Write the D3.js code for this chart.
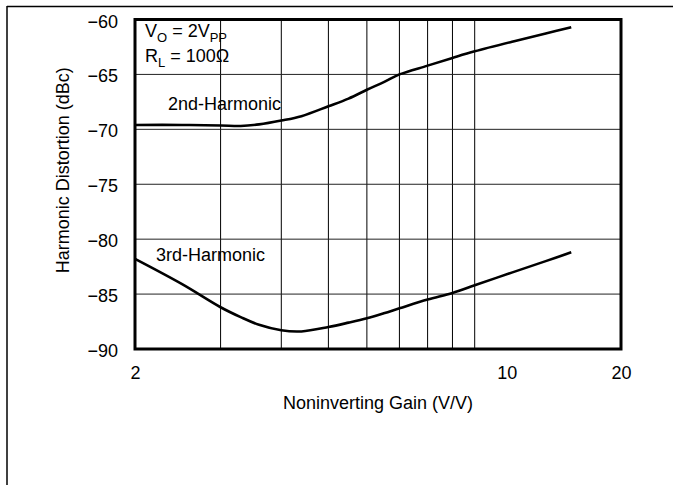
<!DOCTYPE html>
<html>
<head>
<meta charset="utf-8">
<script src="https://cdn.jsdelivr.net/npm/d3@7"></script>
<style>
  html, body { margin: 0; padding: 0; background: #fff; }
  svg { display: block; }
  text { font-family: "Liberation Sans", Arial, Helvetica, sans-serif; fill: #000; }
</style>
</head>
<body>
<svg id="chart" width="673" height="485"></svg>
<script>
// ---- data ----
const gain = [2, 2.5, 3, 3.3, 3.6, 4, 4.4, 5, 5.5, 6, 6.5, 7, 8, 9, 10, 12, 14, 15.8];
const harmonic2 = [-69.6, -69.6, -69.65, -69.7, -69.55, -69.2, -68.8, -67.9, -67.2, -66.4, -65.7, -65.0, -64.2, -63.5, -62.9, -62.0, -61.28, -60.7];
const harmonic3 = [-81.8, -84.1, -86.2, -87.1, -87.8, -88.3, -88.4, -88.0, -87.6, -87.2, -86.75, -86.3, -85.5, -84.9, -84.2, -83.0, -82.0, -81.2];
const xTickLabels = [2, 10, 20];
const xGrid = [3, 4, 5, 6, 7, 8, 9, 10];
const yTicks = [-60, -65, -70, -75, -80, -85, -90];
const seriesNames = ["2nd-Harmonic", "3rd-Harmonic"];

// ---- layout ----
const svg = d3.select("#chart");
const m = { left: 135, right: 621, top: 19.5, bottom: 349 };

const x = d3.scaleLog().domain([2, 20]).range([m.left, m.right]);
const y = d3.scaleLinear().domain([-90, -60]).range([m.bottom, m.top]);

// page frame lines
svg.append("line").attr("x1", 7).attr("x2", 673).attr("y1", 6.5).attr("y2", 6.5)
  .attr("stroke", "#000").attr("stroke-width", 1.5);
svg.append("line").attr("x1", 7).attr("x2", 7).attr("y1", 6).attr("y2", 485)
  .attr("stroke", "#000").attr("stroke-width", 1.5);

// grid
const g = svg.append("g");
g.selectAll(".vg").data(xGrid).enter().append("line")
  .attr("x1", d => x(d)).attr("x2", d => x(d))
  .attr("y1", m.top).attr("y2", m.bottom)
  .attr("stroke", "#000").attr("stroke-width", 1);
g.selectAll(".hg").data(yTicks.slice(1, -1)).enter().append("line")
  .attr("x1", m.left).attr("x2", m.right)
  .attr("y1", d => y(d)).attr("y2", d => y(d))
  .attr("stroke", "#222").attr("stroke-width", 1);

// curves
const line = d3.line().x((d, i) => x(gain[i])).y(d => y(d)).curve(d3.curveCatmullRom.alpha(0.5));
[harmonic2, harmonic3].forEach(s => {
  svg.append("path").attr("d", line(s)).attr("fill", "none")
    .attr("stroke", "#000").attr("stroke-width", 2.6).attr("stroke-linejoin", "round");
});

// plot border
svg.append("rect").attr("x", m.left).attr("y", m.top)
  .attr("width", m.right - m.left).attr("height", m.bottom - m.top)
  .attr("fill", "none").attr("stroke", "#000").attr("stroke-width", 3);

// axes
const fs = "18px";
const yAxis = svg.append("g").attr("transform", `translate(${m.left},0)`)
  .call(d3.axisLeft(y).tickValues(yTicks).tickSize(0).tickPadding(17).tickFormat(d3.format("d")));
yAxis.select(".domain").remove();
yAxis.selectAll("text").attr("font-size", fs).attr("dy", "0.42em")
  .style("font-family", "'Liberation Sans', Arial, sans-serif");

const xAxis = svg.append("g").attr("transform", `translate(0,${m.bottom})`)
  .call(d3.axisBottom(x).tickValues(xTickLabels).tickSize(0).tickPadding(17).tickFormat(d3.format("d")));
xAxis.select(".domain").remove();
xAxis.selectAll("text").attr("font-size", fs)
  .attr("dx", d => d === 10 ? 32 : 0)
  .style("font-family", "'Liberation Sans', Arial, sans-serif");

// axis titles
svg.append("text").attr("x", (m.left + m.right) / 2).attr("y", 409)
  .attr("text-anchor", "middle").attr("font-size", fs).text("Noninverting Gain (V/V)");
svg.append("text").attr("transform", `translate(69,${(m.top + m.bottom) / 2 - 14}) rotate(-90)`)
  .attr("text-anchor", "middle").attr("font-size", fs).text("Harmonic Distortion (dBc)");

// conditions annotation
const ann = svg.append("text").attr("x", 145).attr("y", 36.5).attr("font-size", fs);
ann.append("tspan").text("V");
ann.append("tspan").attr("font-size", "13px").attr("dy", 5).text("O");
ann.append("tspan").attr("dy", -5).text(" = 2V");
ann.append("tspan").attr("font-size", "13px").attr("dy", 5).text("PP");
const ann2 = svg.append("text").attr("x", 145).attr("y", 62).attr("font-size", fs);
ann2.append("tspan").text("R");
ann2.append("tspan").attr("font-size", "13px").attr("dy", 5).text("L");
ann2.append("tspan").attr("dy", -5).text(" = 100Ω");

// series labels
svg.append("text").attr("x", 168).attr("y", 110).attr("font-size", fs).text(seriesNames[0]);
svg.append("text").attr("x", 156).attr("y", 260.5).attr("font-size", fs).text(seriesNames[1]);
</script>
</body>
</html>
